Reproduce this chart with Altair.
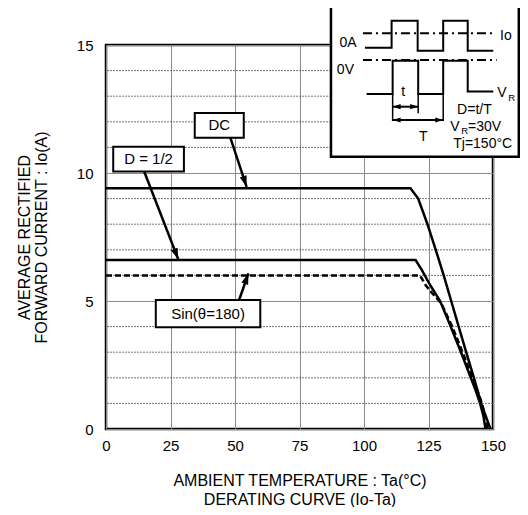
import math
import altair as alt
import pandas as pd

FONT = "Liberation Sans"

# ---------------- data ----------------
x_ticks = [0, 25, 50, 75, 100, 125, 150]
y_ticks = [0, 5, 10, 15]
y_minor = [1, 2, 3, 4, 6, 7, 8, 9, 11, 12, 13, 14]

dc_x = [0, 118, 121.0, 124.6, 127.8, 130.9, 133.8, 136.7, 139.6, 142.6, 145.4, 147.2, 148.3, 149.0]
dc_y = [9.4, 9.4, 9.0, 8.0, 7.0, 6.0, 5.0, 4.0, 3.0, 2.0, 1.0, 0.5, 0.2, 0.0]

half_x = [0, 120, 122.5, 125.2, 129.5, 133.6, 137.6, 141.4, 143.3, 145.0, 146.3, 147.1]
half_y = [6.6, 6.6, 6.2, 5.7, 5.0, 4.0, 3.0, 2.0, 1.5, 1.0, 0.5, 0.0]

sin_x = [0, 121.7, 124.0, 126.5, 130.0, 134.2, 138.2, 142.1, 144.0, 145.7, 147.0, 147.9]
sin_y = [6.0, 6.0, 5.6, 5.3, 4.9, 4.0, 3.0, 2.0, 1.5, 1.0, 0.5, 0.0]

# annotation boxes
box_labels = ["DC", "D = 1/2", "Sin(\u03b8=180)"]
box_x0 = [34.4, 2.8, 19.3]
box_x1 = [53.4, 30.2, 59.8]
box_y0 = [11.38, 10.06, 3.97]
box_y1 = [12.34, 11.03, 5.04]
# arrows from box to curve
arr_x0 = [48.2, 14.8, 51.6]
arr_y0 = [11.38, 10.06, 5.04]
arr_x1 = [54.5, 28.0, 55.2]
arr_y1 = [9.46, 6.63, 6.08]

# inset (drawn in chart units)
inset_x = [87.2, 160.0]
inset_y = [10.63, 16.56]
io_level_x = [99.6, 150.8]
io_level_y = 15.46
v_level_x = [99.6, 151.4]
v_level_y = 14.41
io_wave_x = [100.4, 110.7, 110.7, 120.8, 120.8, 130.7, 130.7, 140.2, 140.2, 150.1]
io_wave_y = [14.89, 14.89, 15.95, 15.95, 14.78, 14.78, 15.95, 15.95, 14.78, 14.78]
v_wave_x = [101.0, 111.1, 111.1, 121.0, 121.0, 130.7, 130.7, 140.2, 140.2, 150.1]
v_wave_y = [13.09, 13.09, 14.38, 14.38, 13.09, 13.09, 14.38, 14.38, 13.18, 13.18]
mark_x = [111.1, 121.0, 130.7]
mark_top = [13.09, 13.09, 13.09]
mark_bot = [12.03, 12.33, 12.03]
dim_x0 = [111.1, 111.1]
dim_x1 = [121.0, 130.7]
dim_y = [12.59, 12.07]

inset_texts = ["0A", "0V", "Io", "t", "T", "D=t/T", "Tj=150\u00b0C"]
inset_tx = [93.8, 92.8, 155.0, 115.2, 123.0, 142.8, 146.0]
inset_ty = [15.07, 14.02, 15.35, 13.18, 11.42, 12.46, 11.14]

# V with subscript R pieces
vr_text = ["V", "R", "=30V", "V", "R"]
vr_x = [133.4, 137.7, 140.3, 151.6, 155.9]
vr_y = [11.81, 11.63, 11.81, 13.11, 12.93]
vr_size = [14, 9.5, 14, 14, 9.5]

# ---------------- scales ----------------
xs = alt.Scale(domain=[0, 150], nice=False, zero=False)
ys = alt.Scale(domain=[0, 15], nice=False, zero=False)
PX_X = 387 / 150.0
PX_Y = 384 / 15.0


def X(field):
    return alt.X(field, type="quantitative", scale=xs)


def Y(field):
    return alt.Y(field, type="quantitative", scale=ys)


# ---------------- base with axes ----------------
axis_df = pd.DataFrame({"x": [0, 150], "y": [0, 15]})
base = alt.Chart(axis_df).mark_point(opacity=0).encode(
    x=alt.X("x:Q", scale=xs, axis=alt.Axis(
        values=x_ticks, grid=True, gridColor="#8a8a8a", gridWidth=1,
        ticks=False, tickSize=0, domain=False, labelPadding=9, labelFlush=False,
        labelFont=FONT, labelFontSize=15, labelColor="black",
        titleFont=FONT, titleFontSize=16, titleFontWeight="normal", titleColor="black",
        titleLineHeight=19, titleBaseline="top", titleAlign="center",
        titleX=193.5, titleY=43),
        title=["AMBIENT TEMPERATURE : Ta(\u00b0C)", "DERATING CURVE (Io-Ta)"]),
    y=alt.Y("y:Q", scale=ys, axis=alt.Axis(
        values=y_ticks, grid=True, gridColor="#8a8a8a", gridWidth=1,
        ticks=False, tickSize=0, domain=False, labelPadding=13, labelFlush=False,
        labelFont=FONT, labelFontSize=15, labelColor="black",
        titleFont=FONT, titleFontSize=16, titleFontWeight="normal", titleColor="black",
        titleLineHeight=17, titleBaseline="top", titleAlign="center", titleAngle=270,
        titleX=-90, titleY=192),
        title=["AVERAGE RECTIFIED", "FORWARD CURRENT : Io(A)"]),
)

minor = alt.Chart(pd.DataFrame({"x": [0.0] * len(y_minor), "y": y_minor})).mark_rule(
    color="#555555", strokeWidth=0.8, strokeDash=[2, 1]
).encode(y=Y("y"))

# ---------------- curves ----------------
curve_df = pd.concat([
    pd.DataFrame({"x": dc_x, "y": dc_y, "s": "DC", "o": range(len(dc_x))}),
    pd.DataFrame({"x": half_x, "y": half_y, "s": "half", "o": range(len(half_x))}),
])
curves = alt.Chart(curve_df).mark_line(color="black", strokeWidth=2.5).encode(
    x=X("x"), y=Y("y"), detail="s:N", order="o:Q")
sin_df = pd.DataFrame({"x": sin_x, "y": sin_y, "o": range(len(sin_x))})
sin_line = alt.Chart(sin_df).mark_line(color="black", strokeWidth=2.5, strokeDash=[6, 3]).encode(
    x=X("x"), y=Y("y"), order="o:Q")


def angle_of(x0, y0, x1, y1):
    dx = (x1 - x0) * PX_X
    dy = -(y1 - y0) * PX_Y
    return (math.degrees(math.atan2(dx, -dy)) + 360) % 360


HEAD = "M0,0L-0.65,2L0.65,2Z"

arr_df = pd.DataFrame({"x": arr_x0, "y": arr_y0, "x1": arr_x1, "y1": arr_y1})
arr_df["ang"] = [angle_of(a, b, c, d) for a, b, c, d in zip(arr_x0, arr_y0, arr_x1, arr_y1)]
arrows = alt.Chart(arr_df).mark_rule(color="black", strokeWidth=2.5).encode(
    x=X("x"), y=Y("y"), x2="x1:Q", y2="y1:Q")
heads = alt.Chart(arr_df).mark_point(shape=HEAD, filled=True, color="black", size=121, opacity=1).encode(
    x=X("x1"), y=Y("y1"), angle=alt.Angle("ang:Q", scale=None))

box_df = pd.DataFrame({"t": box_labels, "x": box_x0, "x1": box_x1, "y": box_y0, "y1": box_y1})
box_df["tx"] = (box_df.x + box_df.x1) / 2
box_df["ty"] = (box_df.y + box_df.y1) / 2
boxes = alt.Chart(box_df).mark_rect(fill="white", stroke="black", strokeWidth=2).encode(
    x=X("x"), x2="x1:Q", y=Y("y"), y2="y1:Q")
box_text = alt.Chart(box_df).mark_text(font=FONT, fontSize=15, color="black",
                                       align="center", baseline="middle").encode(
    x=X("tx"), y=Y("ty"), text="t:N")

# ---------------- inset ----------------
inset = alt.Chart(pd.DataFrame({"x": [inset_x[0]], "x1": [inset_x[1]],
                                "y": [inset_y[0]], "y1": [inset_y[1]]})).mark_rect(
    fill="white", stroke="black", strokeWidth=2.5).encode(
    x=X("x"), x2="x1:Q", y=Y("y"), y2="y1:Q")

lvl_df = pd.DataFrame({"x": [io_level_x[0], v_level_x[0]], "x1": [io_level_x[1], v_level_x[1]],
                       "y": [io_level_y, v_level_y]})
levels = alt.Chart(lvl_df).mark_rule(color="black", strokeWidth=2, strokeDash=[9, 4, 2, 4]).encode(
    x=X("x"), x2="x1:Q", y=Y("y"))

wave_df = pd.concat([
    pd.DataFrame({"x": io_wave_x, "y": io_wave_y, "s": "io", "o": range(len(io_wave_x))}),
    pd.DataFrame({"x": v_wave_x, "y": v_wave_y, "s": "v", "o": range(len(v_wave_x))}),
])
waves = alt.Chart(wave_df).mark_line(color="black", strokeWidth=2).encode(
    x=X("x"), y=Y("y"), detail="s:N", order="o:Q")

marks_df = pd.DataFrame({"x": mark_x, "y": mark_top, "y1": mark_bot})
markers = alt.Chart(marks_df).mark_rule(color="black", strokeWidth=1.5).encode(
    x=X("x"), y=Y("y"), y2="y1:Q")

dim_df = pd.DataFrame({"x": dim_x0, "x1": dim_x1, "y": dim_y})
dims = alt.Chart(dim_df).mark_rule(color="black", strokeWidth=2).encode(
    x=X("x"), x2="x1:Q", y=Y("y"))
dh_df = pd.DataFrame({
    "x": dim_x0 + dim_x1,
    "y": dim_y + dim_y,
    "ang": [270.0] * len(dim_x0) + [90.0] * len(dim_x1),
})
dim_heads = alt.Chart(dh_df).mark_point(shape=HEAD, filled=True, color="black", size=64, opacity=1).encode(
    x=X("x"), y=Y("y"), angle=alt.Angle("ang:Q", scale=None))

it_df = pd.DataFrame({"t": inset_texts, "x": inset_tx, "y": inset_ty})
inset_text = alt.Chart(it_df).mark_text(font=FONT, fontSize=14, color="black",
                                        align="center", baseline="middle").encode(
    x=X("x"), y=Y("y"), text="t:N")

vr_df = pd.DataFrame({"t": vr_text, "x": vr_x, "y": vr_y, "s": vr_size})
vr_texts = alt.Chart(vr_df).mark_text(font=FONT, color="black", align="left",
                                      baseline="middle").encode(
    x=X("x"), y=Y("y"), text="t:N", size=alt.Size("s:Q", scale=None, legend=None))

chart = alt.layer(
    base, minor, curves, sin_line, arrows, heads, boxes, box_text,
    inset, levels, waves, markers, dims, dim_heads, inset_text, vr_texts,
).properties(
    width=387, height=384,
    autosize=alt.AutoSizeParams(type="none"),
    padding={"left": 98, "top": 37, "right": 27, "bottom": 78},
    background="white",
).configure_view(stroke="black", strokeWidth=2.5)

chart.save("out.html", embed_options={"renderer": "svg", "actions": False})
